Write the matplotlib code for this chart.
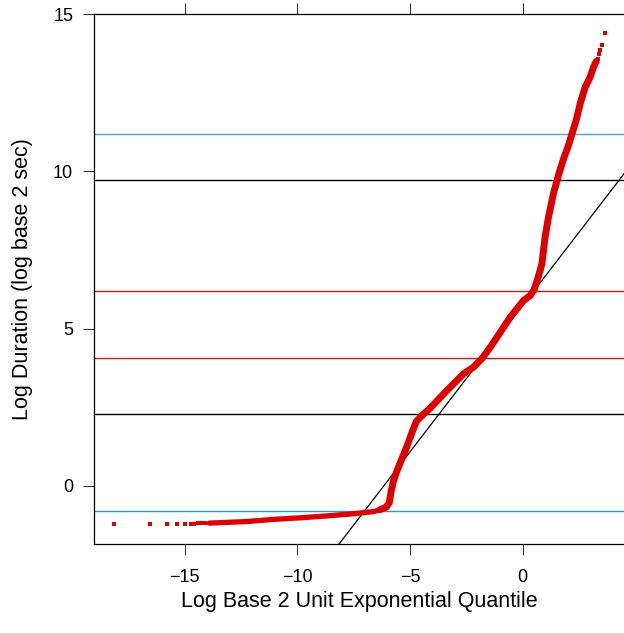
import matplotlib
matplotlib.use("Agg")
import matplotlib.pyplot as plt

plt.rcParams['font.family'] = ['Liberation Sans', 'DejaVu Sans']

# Lower tail: isolated sample quantiles
tail_low_q = [-18.16, -16.56, -15.81, -15.33, -14.97, -14.72, -14.58, -14.41, -14.27, -14.10]
tail_low_d = [-1.23, -1.23, -1.23, -1.21, -1.21, -1.21, -1.21, -1.20, -1.20, -1.20]

# Sparse lower body (exponential quantile vs log duration)
flat_q = [-13.91, -12.22, -11.03, -9.83, -8.67, -7.47, -6.58, -6.32]
flat_d = [-1.19, -1.14, -1.07, -1.02, -0.96, -0.89, -0.82, -0.76]

# Dense main body
body_q = [-6.32, -6.05, -5.92,
          -5.83, -5.74, -5.59, -5.39, -5.14, -4.88, -4.72, -4.50, -4.10, -3.36,
          -2.62, -2.18, -1.81, -1.44, -0.99, -0.55, -0.25, 0.04, 0.34, 0.51,
          0.65, 0.78, 0.86, 1.00, 1.15, 1.37, 1.59, 1.82, 2.04, 2.20,
          2.38, 2.56, 2.78, 3.00, 3.15, 3.27]
body_d = [-0.76, -0.68, -0.54,
          -0.16, 0.13, 0.45, 0.80, 1.24, 1.75, 2.04, 2.21, 2.47, 3.03,
          3.56, 3.77, 4.04, 4.40, 4.88, 5.36, 5.63, 5.89, 6.05, 6.24,
          6.53, 6.85, 7.06, 7.91, 8.54, 9.29, 9.87, 10.40, 10.83, 11.21,
          11.62, 12.16, 12.68, 13.00, 13.32, 13.50]

# Upper tail: isolated sample quantiles
tail_high_q = [3.33, 3.39, 3.44, 3.54, 3.68]
tail_high_d = [13.57, 13.74, 13.87, 14.03, 14.39]

# Reference lines
ref_intercept = 5.73
ref_slope = 0.931
hline_values = [11.18, 9.74, 6.19, 4.05, 2.29, -0.80]
hline_colors = ['#3ea6f5', '#000000', '#cc1a1a', '#cc1a1a', '#000000', '#1e9bff']

xticks = [-15, -10, -5, 0]
yticks = [0, 5, 10, 15]

W, H = 624, 633
fig = plt.figure(figsize=(W / 100, H / 100), dpi=100)
left, right, top, bottom = 94, 625, 14, 544
ax = fig.add_axes([left / W, (H - bottom) / H, (right - left) / W, (bottom - top) / H])

for v, c in zip(hline_values, hline_colors):
    ax.axhline(v, color=c, lw=1.0, zorder=1)

ax.axline((0, ref_intercept), slope=ref_slope, color='black', lw=0.9, zorder=2)

red = '#dd0000'
ax.plot(flat_q, flat_d, color=red, lw=3.8, solid_capstyle='round',
        solid_joinstyle='round', zorder=3)
ax.plot(body_q, body_d, color=red, lw=5.0, solid_capstyle='round',
        solid_joinstyle='round', zorder=3)
ax.plot(tail_low_q, tail_low_d, 's', color=red, ms=3.0, mew=0, zorder=3)
ax.plot(tail_high_q, tail_high_d, 's', color=red, ms=3.0, mew=0, zorder=3)

ax.set_xlim(-19.03, 4.55)
ax.set_ylim(-1.855, 15.01)

ax.set_xticks(xticks)
ax.set_xticklabels([f"\u2212{abs(t)}" if t < 0 else str(t) for t in xticks])
ax.set_yticks(yticks)
ax.tick_params(axis='both', direction='out', length=8, width=0.8, color='#333333',
               labelsize=13, top=True, right=True)
ax.tick_params(axis='x', pad=10)
ax.tick_params(axis='y', pad=7)
for s in ax.spines.values():
    s.set_linewidth(0.9)

ax.set_xlabel("Log Base 2 Unit Exponential Quantile", fontsize=15.5, va='center')
ax.xaxis.set_label_coords(0.5, -(601 - bottom) / (bottom - top))
ax.set_ylabel("Log Duration (log base 2 sec)", fontsize=15.5, va='center')
ax.yaxis.set_label_coords(-(left - 23) / (right - left), 0.5)

fig.savefig("out.png", dpi=100)
